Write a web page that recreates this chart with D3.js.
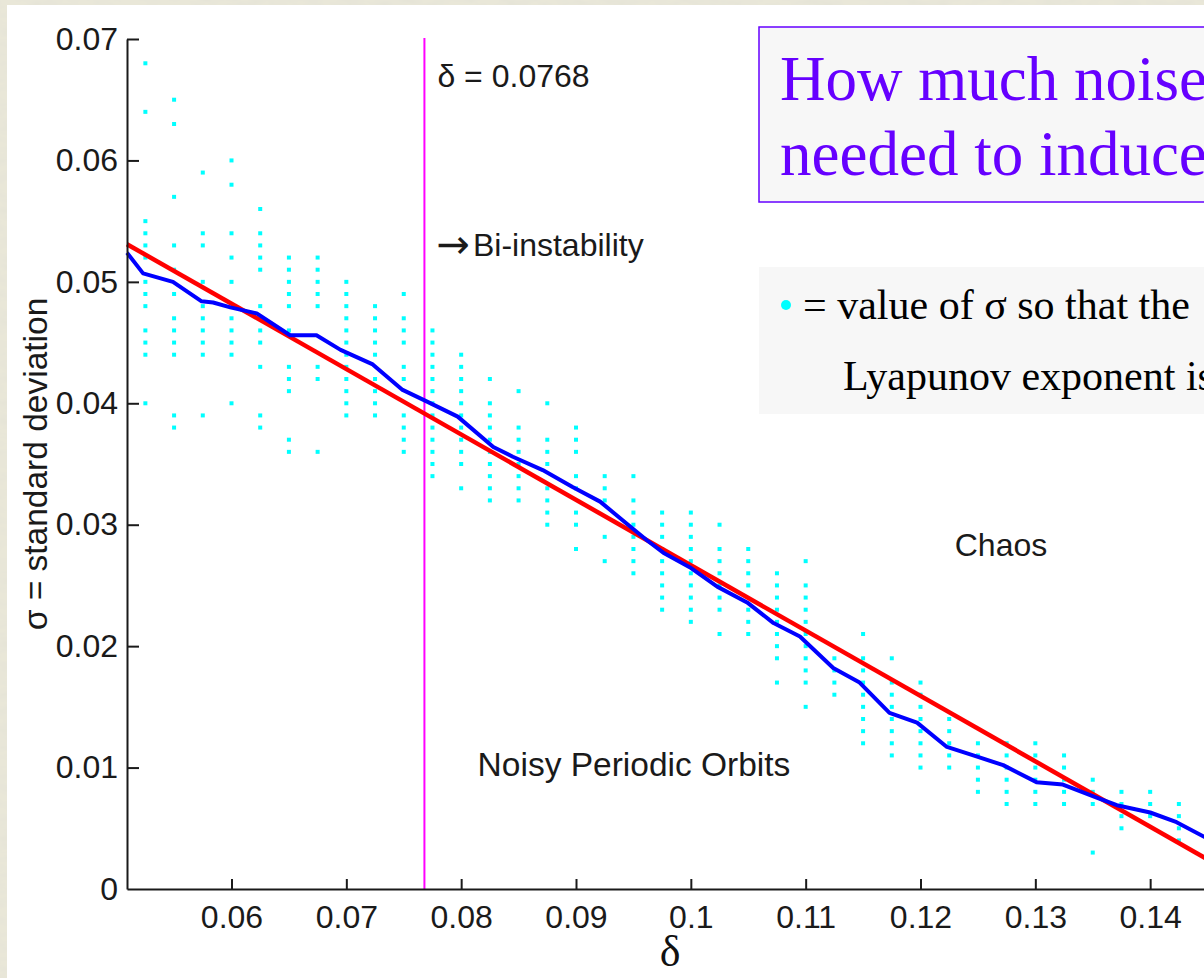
<!DOCTYPE html>
<html>
<head>
<meta charset="utf-8">
<script src="https://cdn.jsdelivr.net/npm/d3@7/dist/d3.min.js"></script>
<style>
  html, body { margin: 0; padding: 0; background: #e8e6d8; }
  svg { display: block; }
</style>
</head>
<body>
<svg id="chart" width="1204" height="978"></svg>
<script>
// Axis ticks
const xTicks = [0.06, 0.07, 0.08, 0.09, 0.1, 0.11, 0.12, 0.13, 0.14];
const xTickLabels = ["0.06", "0.07", "0.08", "0.09", "0.1", "0.11", "0.12", "0.13", "0.14"];
const yTicks = [0, 0.01, 0.02, 0.03, 0.04, 0.05, 0.06, 0.07];
const yTickLabels = ["0", "0.01", "0.02", "0.03", "0.04", "0.05", "0.06", "0.07"];

// Bi-instability threshold
const deltaCritical = 0.0768;

// Mean threshold curve (blue)
const blueDelta = [0.0509, 0.0523, 0.0549, 0.0574, 0.0584, 0.0599, 0.0622, 0.0651, 0.0674, 0.0695,
  0.0723, 0.0749, 0.0769, 0.0797, 0.0828, 0.0845, 0.0871, 0.0897, 0.0921, 0.0944,
  0.0962, 0.0976, 0.0999, 0.1023, 0.1049, 0.1072, 0.1095, 0.1124, 0.1147, 0.1173,
  0.1197, 0.1223, 0.1246, 0.1272, 0.1301, 0.1324, 0.1354, 0.1371, 0.1400, 0.1423,
  0.1447, 0.1470];
const blueSigma = [0.0524, 0.0507, 0.0500, 0.0484, 0.0483, 0.0479, 0.0474, 0.0456, 0.0456, 0.0444,
  0.0432, 0.0411, 0.0402, 0.0389, 0.0364, 0.0356, 0.0345, 0.0331, 0.0319, 0.0301,
  0.0287, 0.0277, 0.0265, 0.0249, 0.0236, 0.0219, 0.0208, 0.0182, 0.0170, 0.0145,
  0.0137, 0.0117, 0.0110, 0.0102, 0.0088, 0.0086, 0.0075, 0.0069, 0.0063, 0.0055,
  0.0043, 0.0035];

// Linear fit (red)
const fitDelta = [0.0509, 0.1460];
const fitSigma = [0.0531, 0.0019];

// Cyan samples: one column per delta, sigma values in units of 1e-3
const dotDelta = [0.0525, 0.055, 0.0575, 0.06, 0.0625, 0.065, 0.0675, 0.07, 0.0725, 0.075,
  0.0775, 0.08, 0.0825, 0.085, 0.0875, 0.09, 0.0925, 0.095, 0.0975, 0.1,
  0.1025, 0.105, 0.1075, 0.11, 0.1125, 0.115, 0.1175, 0.12, 0.1225, 0.125,
  0.1275, 0.13, 0.1325, 0.135, 0.1375, 0.14, 0.1425];
const dotSigmaMilli = [
  [68, 64, 55, 54, 53, 52, 50, 49, 48, 46, 45, 44, 40],
  [65, 63, 57, 53, 51, 49, 47, 46, 45, 44, 39, 38],
  [59, 54, 53, 50, 48, 47, 46, 45, 44, 39],
  [60, 58, 54, 52, 50, 47, 46, 45, 44, 40],
  [56, 54, 53, 52, 51, 48, 47, 46, 45, 43, 39, 38],
  [52, 51, 50, 49, 48, 46, 43, 42, 41, 37, 36],
  [52, 51, 50, 49, 48, 43, 42, 36],
  [50, 49, 48, 47, 46, 45, 44, 43, 42, 41, 40, 39],
  [48, 47, 46, 45, 44, 42, 41, 40, 39],
  [49, 47, 46, 45, 43, 42, 39, 38, 37, 36],
  [46, 45, 44, 43, 42, 41, 40, 39, 38, 37, 36, 35, 34],
  [44, 43, 42, 41, 40, 39, 38, 37, 36, 35, 33],
  [42, 40, 39, 38, 37, 36, 35, 34, 33, 32],
  [41, 38, 37, 36, 35, 34, 33, 32],
  [40, 37, 36, 35, 33, 32, 31, 30],
  [38, 37, 36, 34, 33, 31, 30, 28],
  [34, 33, 32, 29, 27],
  [34, 32, 31, 30, 29, 28, 27, 26],
  [31, 30, 29, 28, 27, 26, 25, 24, 23],
  [31, 30, 29, 28, 27, 26, 25, 24, 23, 22],
  [30, 28, 27, 26, 25, 24, 23, 21],
  [28, 27, 26, 25, 23, 22, 21],
  [26, 25, 24, 23, 22, 21, 20, 19, 17],
  [27, 25, 24, 23, 22, 21, 20, 19, 18, 17, 15],
  [19, 18, 17, 16],
  [21, 19, 18, 17, 16, 15, 14, 13, 12],
  [19, 17, 16, 15, 14, 13, 12, 11],
  [17, 16, 15, 14, 13, 12, 11, 10],
  [14, 13, 12, 11, 10],
  [12, 11, 10, 9, 8],
  [12, 11, 10, 9, 8, 7],
  [12, 11, 10, 9, 8, 7],
  [11, 10, 9, 8, 7],
  [9, 8, 7, 3],
  [8, 7, 6, 5],
  [8, 7, 6],
  [7, 6, 5, 4]
];

const W = 1204, H = 978;
const svg = d3.select("#chart");
const sans = "'Liberation Sans', Arial, sans-serif";
const serif = "'Liberation Serif', 'Times New Roman', serif";

// Parchment background with a faint marbled texture
const defs = svg.append("defs");
const tex = defs.append("filter").attr("id", "parch").attr("x", 0).attr("y", 0).attr("width", 1).attr("height", 1);
tex.append("feTurbulence").attr("type", "fractalNoise").attr("baseFrequency", "0.05 0.12").attr("numOctaves", 3).attr("seed", 4).attr("result", "n");
tex.append("feColorMatrix").attr("in", "n").attr("type", "matrix")
  .attr("values", "0 0 0 0 0.78  0 0 0 0 0.77  0 0 0 0 0.68  0 0 0 1.6 -0.55");
svg.append("rect").attr("width", W).attr("height", H).attr("fill", "#e9e7d8");
svg.append("rect").attr("width", W).attr("height", H).attr("filter", "url(#parch)");

// White slide panel
svg.append("rect").attr("x", 7).attr("y", 5).attr("width", W - 7).attr("height", H - 5).attr("fill", "#ffffff");

// Scales
const x = d3.scaleLinear().domain([0.0509, 0.15]).range([127, 1265]);
const y = d3.scaleLinear().domain([0, 0.07]).range([889, 39]);

// Cyan sample squares
const dots = [];
dotDelta.forEach((d, i) => dotSigmaMilli[i].forEach(s => dots.push([d, s / 1000])));
svg.append("g").selectAll("rect").data(dots).join("rect")
  .attr("x", d => x(d[0]) - 2)
  .attr("y", d => y(d[1]) - 2)
  .attr("width", 4).attr("height", 4)
  .attr("fill", "#00ffff");

// Threshold line
svg.append("line")
  .attr("x1", x(deltaCritical)).attr("x2", x(deltaCritical))
  .attr("y1", y(0.07) - 1).attr("y2", y(0))
  .attr("stroke", "#ff00ff").attr("stroke-width", 2);

// Curves
const line = d3.line().x(d => x(d[0])).y(d => y(d[1]));
svg.append("path")
  .datum(fitDelta.map((d, i) => [d, fitSigma[i]]))
  .attr("d", line).attr("fill", "none")
  .attr("stroke", "#ff0000").attr("stroke-width", 4.5);
svg.append("path")
  .datum(blueDelta.map((d, i) => [d, blueSigma[i]]))
  .attr("d", line).attr("fill", "none")
  .attr("stroke", "#0000ff").attr("stroke-width", 4).attr("stroke-linejoin", "round");

// Axes with inward ticks
const xAxis = svg.append("g").attr("transform", `translate(0,${y(0)})`)
  .call(d3.axisBottom(x).tickValues(xTicks)
    .tickFormat((d, i) => xTickLabels[i])
    .tickSizeInner(-10).tickSizeOuter(0).tickPadding(16));
const yAxis = svg.append("g").attr("transform", `translate(${x(0.0509)},0)`)
  .call(d3.axisLeft(y).tickValues(yTicks)
    .tickFormat((d, i) => yTickLabels[i])
    .tickSizeInner(-12).tickSizeOuter(0).tickPadding(9));
[xAxis, yAxis].forEach(g => {
  g.select(".domain").attr("stroke", "#1a1a1a").attr("stroke-width", 2);
  g.selectAll(".tick line").attr("stroke", "#1a1a1a").attr("stroke-width", 2);
  g.selectAll(".tick text").attr("fill", "#1a1a1a")
    .style("font-family", sans).style("font-size", "32px");
});
// the zero tick at the origin is only labelled
yAxis.selectAll(".tick").filter(d => d === 0).select("line").remove();

// Axis titles
svg.append("text")
  .attr("x", 670).attr("y", 966)
  .attr("text-anchor", "middle")
  .style("font-family", serif).style("font-size", "44px")
  .attr("fill", "#111").text("δ");
svg.append("text")
  .attr("transform", "translate(47,464) rotate(-90)")
  .attr("text-anchor", "middle")
  .style("font-family", sans).style("font-size", "33.5px")
  .attr("fill", "#1a1a1a").text("σ = standard deviation");

// Annotations inside the plot
const note = (tx, ty, str, size, anchor) => svg.append("text")
  .attr("x", tx).attr("y", ty).attr("text-anchor", anchor || "start")
  .style("font-family", sans).style("font-size", size + "px")
  .attr("fill", "#1a1a1a").text(str);
note(x(deltaCritical) + 13, 87, "δ = 0.0768", 32);
const bi = note(x(deltaCritical) + 12, 256, "", 32);
bi.append("tspan").style("font-family", "'DejaVu Sans', sans-serif").style("font-size", "40px")
  .attr("dy", 2).text("→");
bi.append("tspan").attr("dx", 3).attr("dy", -2).text("Bi-instability");
note(1001, 556, "Chaos", 32, "middle");
note(634, 776, "Noisy Periodic Orbits", 33.5, "middle");

// Title box
svg.append("rect").attr("x", 759).attr("y", 27).attr("width", 600).attr("height", 175)
  .attr("fill", "#f7f7f7").attr("stroke", "#6600ff").attr("stroke-width", 1.5);
const title = svg.append("text")
  .style("font-family", serif).style("font-size", "63px").attr("fill", "#6600ff");
title.append("tspan").attr("x", 780).attr("y", 100).text("How much noise is");
title.append("tspan").attr("x", 780).attr("y", 175).text("needed to induce chaos?");

// Legend box
svg.append("rect").attr("x", 759).attr("y", 267).attr("width", 600).attr("height", 147)
  .attr("fill", "#f7f7f7");
svg.append("circle").attr("cx", 786).attr("cy", 305).attr("r", 5).attr("fill", "#00ffff");
const leg = svg.append("text")
  .style("font-family", serif).style("font-size", "42px").attr("fill", "#000");
leg.append("tspan").attr("x", 803).attr("y", 319).text("= value of σ so that the");
leg.append("tspan").attr("x", 843).attr("y", 390).text("Lyapunov exponent is positive");
</script>
</body>
</html>
